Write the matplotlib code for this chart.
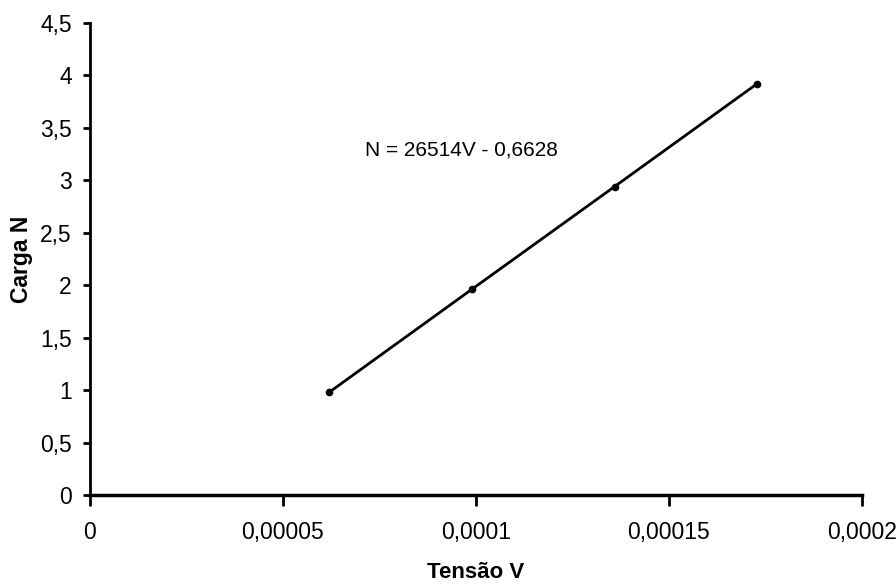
import numpy as np
import matplotlib
matplotlib.use('Agg')
import matplotlib.pyplot as plt
from matplotlib.ticker import FuncFormatter, MultipleLocator

# loads (N) and measured bridge voltage (V)
tensao = [0.0000620, 0.0000989, 0.0001359, 0.0001728]
carga = [0.98, 1.96, 2.94, 3.92]
equacao = 'N = 26514V - 0,6628'

plt.rcParams['font.family'] = ['Liberation Sans', 'DejaVu Sans']


def virgula(v, pos):
    s = f'{v:.5f}'.rstrip('0').rstrip('.')
    return s.replace('.', ',')


fig = plt.figure(figsize=(8.96, 5.86), dpi=100)
ax = fig.add_axes([0.1004, 0.1553, 0.8616, 0.8055])

ax.plot(tensao, carga, '-', color='black', linewidth=2,
        marker='o', markersize=4.5, clip_on=False)
ax.text(0.0000712, 3.29, equacao, fontsize=15, va='center', ha='left')

ax.set_xlim(0, 0.0002)
ax.set_ylim(0, 4.5)
ax.xaxis.set_major_locator(MultipleLocator(0.00005))
ax.yaxis.set_major_locator(MultipleLocator(0.5))
ax.xaxis.set_major_formatter(FuncFormatter(virgula))
ax.yaxis.set_major_formatter(FuncFormatter(virgula))

for side in ['top', 'right']:
    ax.spines[side].set_visible(False)
ax.spines['left'].set_linewidth(2)
ax.spines['bottom'].set_linewidth(2.5)
ax.tick_params(axis='x', direction='out', length=8, width=2, pad=11, labelsize=16.5)
ax.tick_params(axis='y', direction='out', length=5, width=2, pad=8, labelsize=16.5)

ax.set_xlabel('Tensão V', fontsize=16, fontweight='bold')
ax.set_ylabel('Carga N', fontsize=16.5, fontweight='bold')
ax.xaxis.set_label_coords(0.5, -0.142)
ax.yaxis.set_label_coords(-0.074, 0.5)

fig.savefig('out.png', dpi=100)
